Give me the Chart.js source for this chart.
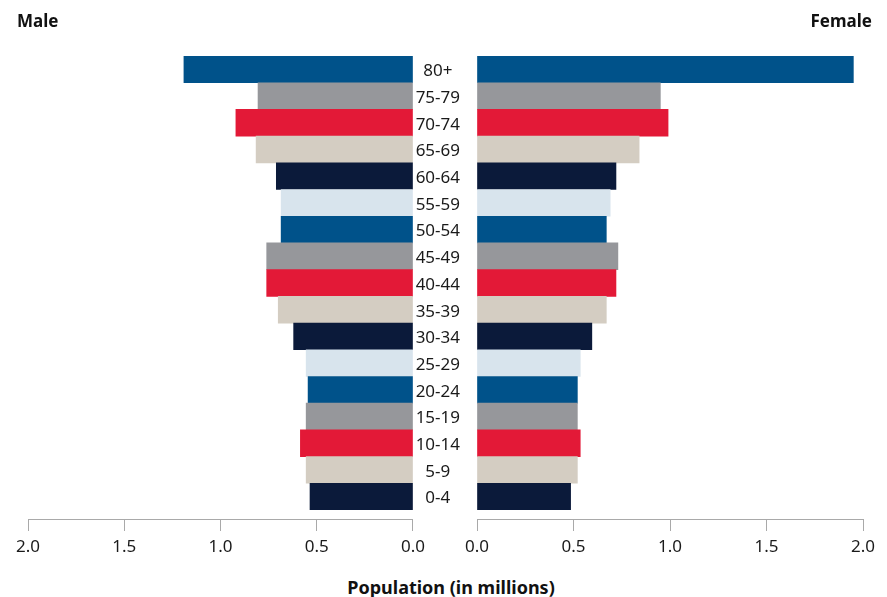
<!DOCTYPE html>
<html>
<head>
<meta charset="utf-8">
<script src="https://cdn.jsdelivr.net/npm/chart.js@4.4.1/dist/chart.umd.min.js"></script>
<style>
  body { margin: 0; background: #fff; }
  #wrap { position: relative; width: 887px; height: 597px; overflow: hidden; font-family: "Noto Sans", sans-serif; }
  canvas { position: absolute; top: 0; }
  #maleChart { left: 0; }
  #femaleChart { left: 415px; }
  .side { position: absolute; top: 11px; font-size: 17px; font-weight: bold; line-height: 20px; color: #111; }
  #xTitle { position: absolute; top: 577px; left: 451px; transform: translateX(-50%); font-size: 18px; font-weight: bold; line-height: 20px; color: #111; white-space: nowrap; }
</style>
</head>
<body>
<div id="wrap">
  <canvas id="maleChart" width="431" height="559"></canvas>
  <canvas id="femaleChart" width="472" height="559"></canvas>
  <div class="side" style="left:17px">Male</div>
  <div class="side" style="right:15px">Female</div>
  <div id="xTitle">Population (in millions)</div>
</div>
<script>
// age groups, oldest first (top of the pyramid)
const ageGroups = ["80+", "75-79", "70-74", "65-69", "60-64", "55-59", "50-54", "45-49",
  "40-44", "35-39", "30-34", "25-29", "20-24", "15-19", "10-14", "5-9", "0-4"];

// population in millions
const maleValues = [1.19, 0.805, 0.92, 0.815, 0.71, 0.685, 0.685, 0.76,
  0.76, 0.70, 0.62, 0.555, 0.545, 0.555, 0.585, 0.555, 0.535];
const femaleValues = [1.95, 0.95, 0.99, 0.84, 0.72, 0.69, 0.67, 0.73,
  0.72, 0.67, 0.595, 0.535, 0.52, 0.52, 0.535, 0.52, 0.485];

const axisMin = 0;
const axisMax = 2;
const axisStep = 0.5;

// colours repeat every six rows
const palette = ["#00528a", "#96979b", "#e31937", "#d4cdc2", "#0b1a3a", "#d8e4ed"];
const barColors = ageGroups.map((g, i) => palette[i % palette.length]);

const axisColor = "#a9a9a9";
const textColor = "#1a1a1a";
const tickFont = { family: "Noto Sans", size: 17 };

// leave a small gap between the lowest bar and the x axis line
const barGap = {
  id: "barGap",
  afterLayout(chart) {
    const y = chart.scales.y;
    y.bottom -= 9;
    y.height -= 9;
    y.configure();
  }
};

function xScale(reverse) {
  return {
    type: "linear",
    reverse: reverse,
    min: axisMin,
    max: axisMax,
    afterFit: s => { s.height = 40; },
    ticks: {
      stepSize: axisStep,
      color: textColor,
      font: tickFont,
      padding: 6,
      callback: v => Number(v).toFixed(1)
    },
    grid: {
      drawOnChartArea: false,
      drawTicks: true,
      tickLength: 12,
      color: axisColor
    },
    border: { display: true, color: axisColor }
  };
}

function makeChart(id, values, reverse, showLabels, padding) {
  return new Chart(document.getElementById(id), {
    type: "bar",
    data: {
      labels: ageGroups,
      datasets: [{
        data: values,
        backgroundColor: barColors,
        borderWidth: 0,
        barPercentage: 1,
        categoryPercentage: 1
      }]
    },
    options: {
      indexAxis: "y",
      responsive: false,
      animation: false,
      layout: { padding: padding },
      plugins: {
        legend: { display: false },
        tooltip: { enabled: false }
      },
      scales: {
        x: xScale(reverse),
        y: {
          display: showLabels,
          afterFit: s => { if (showLabels) s.width = 62; },
          grid: { display: false },
          border: { display: false },
          ticks: {
            color: textColor,
            font: tickFont,
            crossAlign: "center",
            padding: 9,
            labelOffset: 2
          }
        }
      }
    },
    plugins: [barGap]
  });
}

const maleChart = makeChart("maleChart", maleValues, true, false, { left: 28, right: 16, top: 56, bottom: 0 });
const femaleChart = makeChart("femaleChart", femaleValues, false, true, { left: 0, right: 24, top: 56, bottom: 0 });
</script>
</body>
</html>
